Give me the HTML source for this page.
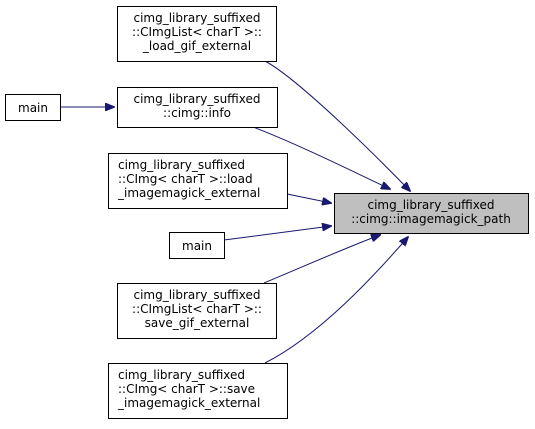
<!DOCTYPE html>
<html><head><meta charset="utf-8"><style>
body{margin:0;background:#fff;width:535px;height:424px;overflow:hidden}
svg text{font-family:"DejaVu Sans","Liberation Sans",sans-serif;font-size:12px;fill:#000}
</style></head><body>
<svg width="535" height="424" viewBox="0 0 535 424">
<defs><marker id="a" markerWidth="10" markerHeight="8" refX="9" refY="4" orient="auto" markerUnits="userSpaceOnUse"><path d="M0,0 L10,4 L0,8 z" fill="#191970" stroke="#191970"/></marker></defs>
<g fill="none" stroke="#191970" stroke-width="1">
<path d="M265,61 C300,80 380,160 410,191" marker-end="url(#a)"/>
<path d="M253,127 C300,145 360,175 390,189" marker-end="url(#a)"/>
<path d="M287,194 L331,203" marker-end="url(#a)"/>
<path d="M60,107 L114,107" marker-end="url(#a)"/>
<path d="M224,240 L331,226" marker-end="url(#a)"/>
<path d="M264,283 C300,268 350,246 380,235" marker-end="url(#a)"/>
<path d="M265,363 C320,335 375,275 408,237" marker-end="url(#a)"/>
</g>
<g stroke="#000" stroke-width="1" fill="#fff">
<rect x="117.5" y="6.5" width="159" height="55"/>
<rect x="5.5" y="94.5" width="55" height="26"/>
<rect x="117.5" y="87.5" width="160" height="40"/>
<rect x="108.5" y="153.5" width="179" height="55"/>
<rect x="334.5" y="193.5" width="194" height="40" fill="#bfbfbf"/>
<rect x="169.5" y="232.5" width="55" height="26"/>
<rect x="117.5" y="283.5" width="159" height="55"/>
<rect x="108.5" y="363.5" width="179" height="55"/>
</g>
<g text-anchor="middle">
<text x="197" y="22">cimg_library_suffixed</text>
<text x="197" y="36">::CImgList&lt; charT &gt;::</text>
<text x="197" y="50">_load_gif_external</text>
<text x="33" y="112">main</text>
<text x="197" y="103">cimg_library_suffixed</text>
<text x="197" y="117">::cimg::info</text>
<text x="431" y="209">cimg_library_suffixed</text>
<text x="431" y="223">::cimg::imagemagick_path</text>
<text x="197" y="250">main</text>
<text x="197" y="299">cimg_library_suffixed</text>
<text x="197" y="313">::CImgList&lt; charT &gt;::</text>
<text x="197" y="327">save_gif_external</text>
</g>
<text x="118" y="169">cimg_library_suffixed</text>
<text x="118" y="183">::CImg&lt; charT &gt;::load</text>
<text x="118" y="197">_imagemagick_external</text>
<text x="118" y="379">cimg_library_suffixed</text>
<text x="118" y="393">::CImg&lt; charT &gt;::save</text>
<text x="118" y="407">_imagemagick_external</text>
</svg>
</body></html>
